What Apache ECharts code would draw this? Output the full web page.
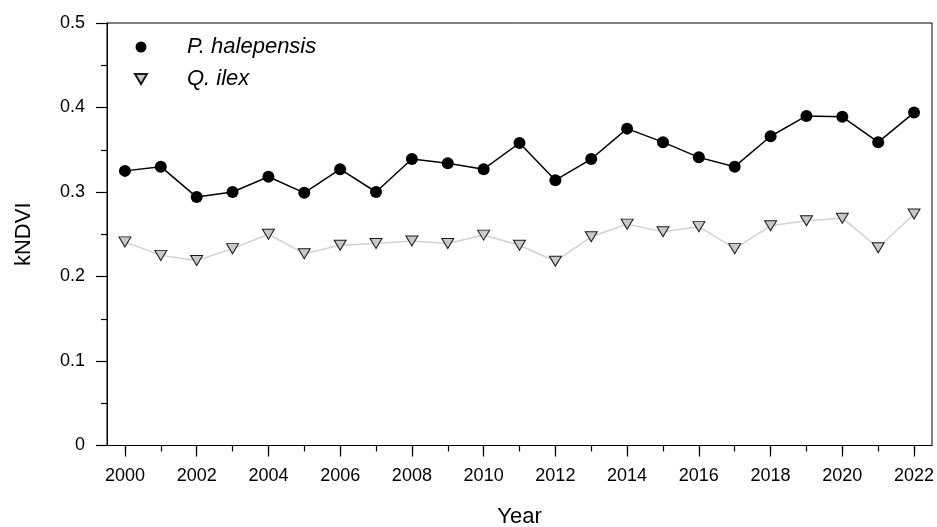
<!DOCTYPE html>
<html>
<head>
<meta charset="utf-8">
<script src="https://cdn.jsdelivr.net/npm/echarts@6/dist/echarts.min.js"></script>
<style>
  html, body { margin: 0; padding: 0; background: #fff; }
  #chart { width: 937px; height: 527px; }
</style>
</head>
<body>
<div id="chart"></div>
<script>
// Annual mean kNDVI per species
const years = ['2000','2001','2002','2003','2004','2005','2006','2007','2008','2009','2010','2011',
               '2012','2013','2014','2015','2016','2017','2018','2019','2020','2021','2022'];
const pHalepensis = [0.325, 0.330, 0.294, 0.300, 0.318, 0.299, 0.327, 0.300, 0.339, 0.334, 0.327, 0.358,
                     0.314, 0.339, 0.375, 0.359, 0.341, 0.330, 0.366, 0.390, 0.389, 0.359, 0.394];
const qIlex = [0.241, 0.225, 0.219, 0.233, 0.250, 0.227, 0.237, 0.239, 0.242, 0.239, 0.249, 0.237,
               0.218, 0.247, 0.262, 0.253, 0.259, 0.233, 0.260, 0.266, 0.269, 0.234, 0.274];
const seriesNames = ['P. halepensis', 'Q. ilex'];

const FONT = '"Liberation Sans", Arial, sans-serif';
const TRIANGLE_DOWN = 'path://M0,0 L12,0 L6,10 Z';
const chart = echarts.init(document.getElementById('chart'), null, { renderer: 'canvas' });

chart.setOption({
  animation: false,
  backgroundColor: '#fff',
  grid: {
    left: 107, right: 5, top: 23, bottom: 81.5,
    containLabel: false, outerBoundsMode: 'none',
    show: true, borderColor: '#000', borderWidth: 1, backgroundColor: 'transparent'
  },
  legend: {
    orient: 'vertical',
    left: 134, top: 36, padding: 0,
    itemWidth: 12, itemHeight: 11, itemGap: 10,
    textStyle: { fontFamily: FONT, fontSize: 22, fontStyle: 'italic', color: '#000',
                 lineHeight: 22, padding: [0, 0, 0, 35] },
    data: [
      { name: seriesNames[0], icon: 'circle' },
      { name: seriesNames[1], icon: TRIANGLE_DOWN }
    ]
  },
  xAxis: [
    {
      type: 'category', data: years, boundaryGap: true,
      name: 'Year', nameLocation: 'middle', nameGap: 60,
      nameTextStyle: { fontFamily: FONT, fontSize: 22, color: '#000' },
      axisLine: { show: true, onZero: false, lineStyle: { color: '#000', width: 1 } },
      axisTick: { show: true, inside: false, alignWithLabel: true, interval: 1, length: 11,
                  lineStyle: { color: '#000', width: 1.2 } },
      axisLabel: { interval: 1, margin: 22, fontFamily: FONT, fontSize: 18, color: '#000' },
      splitLine: { show: false }
    },
    {
      type: 'category', data: years, boundaryGap: true, position: 'bottom', offset: 0,
      axisLine: { show: false, onZero: false },
      axisTick: { show: true, inside: false, alignWithLabel: true, interval: 0, length: 6,
                  lineStyle: { color: '#000', width: 1.2 } },
      axisLabel: { show: false },
      splitLine: { show: false }
    }
  ],
  yAxis: {
    type: 'value', min: 0, max: 0.5, interval: 0.1,
    name: 'kNDVI', nameLocation: 'middle', nameGap: 72,
    nameTextStyle: { fontFamily: FONT, fontSize: 22, color: '#000' },
    axisLine: { show: true, lineStyle: { color: '#000', width: 1 } },
    axisTick: { show: true, length: 11, lineStyle: { color: '#000', width: 1.2 } },
    minorTick: { show: true, splitNumber: 2, length: 6, lineStyle: { color: '#000', width: 1.2 } },
    axisLabel: { margin: 22, fontFamily: FONT, fontSize: 18, color: '#000' },
    splitLine: { show: false }
  },
  series: [
    {
      name: seriesNames[1], type: 'line', data: qIlex, xAxisIndex: 0,
      symbol: TRIANGLE_DOWN, symbolSize: [12, 10],
      itemStyle: { color: '#c8c8c8', borderColor: '#1a1a1a', borderWidth: 1 },
      lineStyle: { color: '#d2d2d2', width: 1.5 },
      z: 2
    },
    {
      name: seriesNames[0], type: 'line', data: pHalepensis, xAxisIndex: 0,
      symbol: 'circle', symbolSize: 12,
      itemStyle: { color: '#000', borderColor: '#000', borderWidth: 0 },
      lineStyle: { color: '#000', width: 1.5 },
      z: 3
    }
  ]
});
</script>
</body>
</html>
